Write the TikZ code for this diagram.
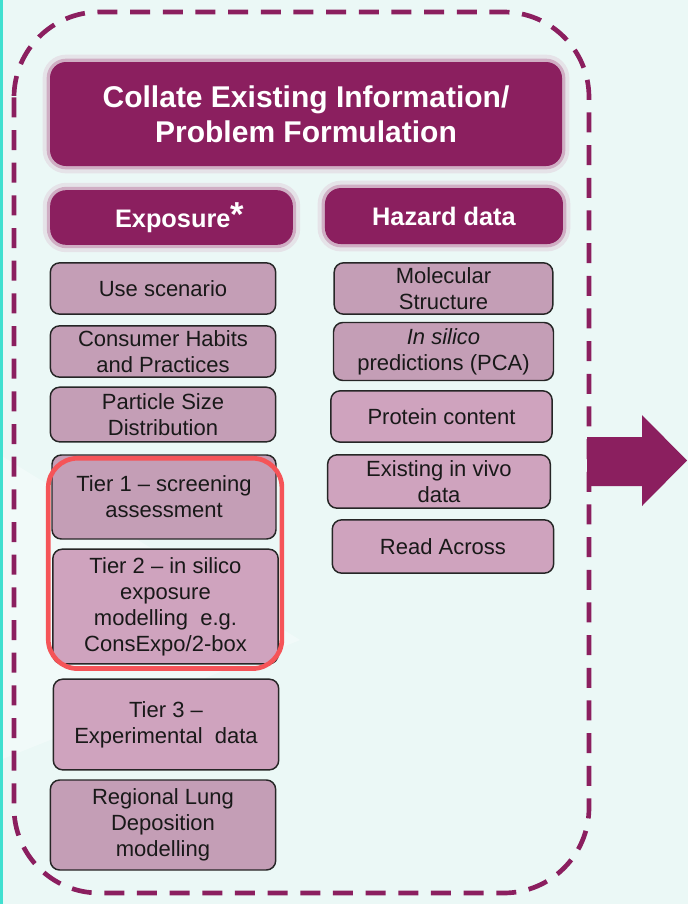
\documentclass[tikz,border=0pt]{standalone}
\usepackage{fontspec}
\setmainfont{Liberation Sans}
\usepackage{tikz}
\usetikzlibrary{fit}
\definecolor{plum}{RGB}{139,31,95}
\definecolor{mauve}{RGB}{196,158,182}
\definecolor{rosemauve}{RGB}{207,163,190}
\definecolor{mint}{RGB}{235,248,246}
\definecolor{aqua}{RGB}{64,224,208}
\definecolor{tiered}{RGB}{245,84,88}
\tikzstyle{glow} = [preaction={draw=plum!30, line width=11pt, opacity=0.35}, preaction={draw=plum!55, line width=5pt, opacity=0.55}]
\tikzstyle{headbox} = [rectangle, rounded corners=12pt, fill=plum, text=white, font=\bfseries\fontsize{19}{23}\selectfont, glow]
\tikzstyle{itembox} = [rectangle, rounded corners=7pt, draw=black!85, line width=1.1pt, fill=mauve, text=black!90, font=\fontsize{16.5}{19.5}\selectfont, minimum width=169pt, minimum height=38.5pt, inner sep=1pt]
\tikzstyle{tierframe} = [rectangle, rounded corners=22pt, draw=tiered, line width=3.5pt]

\begin{document}
\begin{tikzpicture}[x=0.75pt, y=-0.75pt, align=center, node distance=48.75pt]

      \useasboundingbox (0,0) rectangle (688,904);
      \fill[mint] (0,0) rectangle (688,904);
      \fill[white, opacity=0.35] (0,455) -- (300,640) -- (0,760) -- cycle;
      \fill[aqua] (0,0) rectangle (3,904);
      \draw[plum, line width=3.5pt, dash pattern=on 15pt off 9.5pt, rounded corners=64pt] (14,12) rectangle (589,893);

      \node (collate) [headbox, minimum width=384pt, minimum height=78pt, font=\bfseries\fontsize{22.5}{26}\selectfont] at (306,114) {Collate Existing Information/\\Problem Formulation};
      \node (exposure) [headbox, minimum width=182pt, minimum height=41pt] at (171.5,217.5) {\hspace*{12pt}Exposure\raisebox{1pt}{\fontsize{26}{26}\selectfont *}};
      \node (hazard) [headbox, minimum width=178.5pt, minimum height=42pt, right of=exposure, xshift=155.6pt, yshift=1.1pt] {Hazard data};

      \node (use) [itembox] at (163,288.5) {Use scenario};
      \node (habits) [itembox, below of=use, yshift=1.5pt] {Consumer Habits\\and Practices};
      \node (particle) [itembox, below of=habits, yshift=1.5pt, minimum height=41pt] {Particle Size\\Distribution};
      \node (tier1) [itembox, minimum width=168pt, minimum height=63pt] at (164,497) {Tier 1 -- screening\\assessment};
      \node (tier2) [itembox, fill=rosemauve, minimum height=86pt] at (165.5,606.5) {Tier 2 -- in silico\\exposure\\modelling~ e.g.\\ConsExpo/2-box};
      \node (tier3) [itembox, fill=rosemauve, minimum height=68pt] at (166,724.5) {Tier 3 --\\Experimental~ data};
      \node (lung) [itembox, minimum height=67.5pt] at (163,825) {Regional Lung\\Deposition\\modelling};
      \node (redframe) [tierframe, fit=(tier1)(tier2), inner xsep=2.25pt, inner ysep=0pt, yshift=-3pt] {};

      \node (molecular) [itembox, minimum width=164pt] at (443.5,288.5) {Molecular\\Structure};
      \node (insilico) [itembox, minimum width=165pt, minimum height=43.5pt, below of=molecular, yshift=1.5pt] {\textit{In silico}\\predictions (PCA)};
      \node (protein) [itembox, fill=rosemauve, minimum width=166pt, below of=insilico, xshift=-1.5pt] {Protein content};
      \node (invivo) [itembox, fill=rosemauve, minimum width=167pt, minimum height=40pt, below of=protein, xshift=-1.9pt] {Existing in vivo\\data};
      \node (readacross) [itembox, fill=rosemauve, minimum width=166pt, minimum height=40pt, below of=invivo, xshift=3pt] {Read Across};

      \fill[plum] (587,437) -- (642,437) -- (642,415) -- (687,460.5) -- (642,506) -- (642,486) -- (587,486) -- cycle;
    \end{tikzpicture}
\end{document}
